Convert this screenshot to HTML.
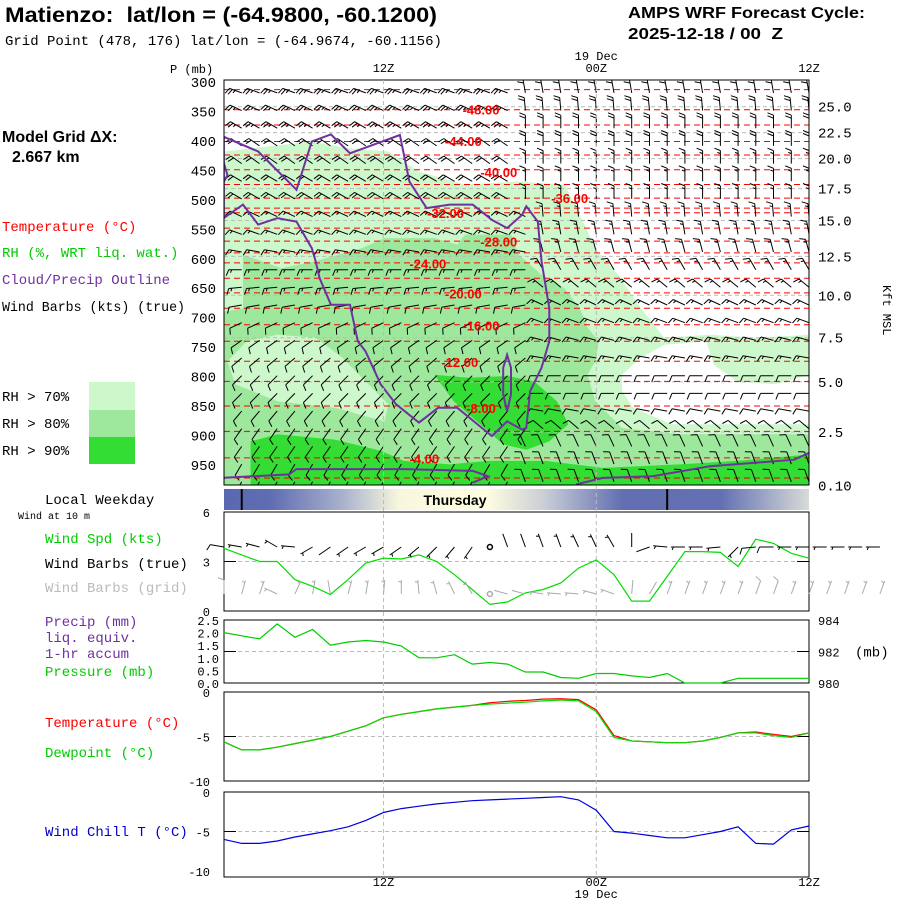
<!DOCTYPE html>
<html><head><meta charset="utf-8"><style>
html,body{margin:0;padding:0;background:#fff}
svg{display:block;font-family:"Liberation Mono",monospace}
text{white-space:pre}
.b{font-family:"Liberation Sans",sans-serif;font-weight:bold}
</style></head><body>
<svg id="s" width="900" height="900" viewBox="0 0 900 900" xmlns="http://www.w3.org/2000/svg">
<defs>
<clipPath id="cm"><rect x="224" y="80" width="585" height="405"/></clipPath>
<linearGradient id="dg" x1="224" x2="809" y1="0" y2="0" gradientUnits="userSpaceOnUse">
<stop offset="0" stop-color="#5a68b0"/><stop offset="0.08" stop-color="#5f6db2"/><stop offset="0.2" stop-color="#a7b0cc"/><stop offset="0.3" stop-color="#f8f7dd"/><stop offset="0.45" stop-color="#fffde0"/><stop offset="0.55" stop-color="#c8ccd6"/><stop offset="0.68" stop-color="#6270b2"/><stop offset="0.85" stop-color="#6371b3"/><stop offset="1" stop-color="#d8dbd8"/>
</linearGradient>
</defs>
<text class="b" x="5" y="22" font-size="21" textLength="432" lengthAdjust="spacingAndGlyphs">Matienzo:  lat/lon = (-64.9800, -60.1200)</text>
<text x="5" y="45" font-size="14">Grid Point (478, 176) lat/lon = (-64.9674, -60.1156)</text>
<text class="b" x="628" y="18" font-size="16" textLength="237" lengthAdjust="spacingAndGlyphs">AMPS WRF Forecast Cycle:</text>
<text class="b" x="628" y="39" font-size="16" textLength="155" lengthAdjust="spacingAndGlyphs">2025-12-18 / 00  Z</text>
<text class="b" x="2" y="142" font-size="16">Model Grid ΔX:</text>
<text class="b" x="12" y="162" font-size="16">2.667 km</text>
<text x="2" y="231" font-size="14" fill="#ff0000">Temperature (°C)</text>
<text x="2" y="257" font-size="14" fill="#00cc00">RH (%, WRT liq. wat.)</text>
<text x="2" y="284" font-size="14" fill="#7030a0">Cloud/Precip Outline</text>
<text x="2" y="311" font-size="14" textLength="183" lengthAdjust="spacingAndGlyphs">Wind Barbs (kts) (true)</text>
<rect x="89" y="382" width="46" height="28" fill="#ccf8cc"/>
<rect x="89" y="410" width="46" height="27" fill="#9de89d"/>
<rect x="89" y="437" width="46" height="27" fill="#33dd33"/>
<text x="2" y="401" font-size="14">RH &gt; 70%</text>
<text x="2" y="428" font-size="14">RH &gt; 80%</text>
<text x="2" y="455" font-size="14">RH &gt; 90%</text>
<text x="170" y="73" font-size="12">P (mb)</text>
<text x="45" y="504" font-size="14">Local Weekday</text>
<text x="18" y="519" font-size="10">Wind at 10 m</text>
<text x="45" y="543" font-size="14" fill="#00cc00">Wind Spd (kts)</text>
<text x="45" y="568" font-size="14">Wind Barbs (true)</text>
<text x="45" y="592" font-size="14" fill="#bbbbbb">Wind Barbs (grid)</text>
<text x="45" y="626" font-size="14" fill="#7030a0">Precip (mm)</text>
<text x="45" y="642" font-size="14" fill="#7030a0">liq. equiv.</text>
<text x="45" y="658" font-size="14" fill="#7030a0">1-hr accum</text>
<text x="45" y="676" font-size="14" fill="#00cc00">Pressure (mb)</text>
<text x="45" y="727" font-size="14" fill="#ff0000">Temperature (°C)</text>
<text x="45" y="757" font-size="14" fill="#00cc00">Dewpoint (°C)</text>
<text x="45" y="836" font-size="14" fill="#0000cc">Wind Chill T (°C)</text>
<g id="main" clip-path="url(#cm)"></g>
<g id="over"></g>
</svg>
<script>
// ---------- data ----------
const hours=[3,4,5,6,7,8,9,10,11,12,13,14,15,16,17,18,19,20,21,22,23,24,25,26,27,28,29,30,31,32,33,34,35,36];
const windSpd=[3.8,3.4,3.0,3.0,1.9,1.5,1.0,1.9,2.9,3.2,3.15,3.4,3.0,2.2,1.3,0.4,0.55,1.1,1.3,1.7,2.6,3.1,2.2,0.6,0.6,2.1,3.6,3.6,3.55,2.7,4.35,4.1,3.5,3.2];
const pressure=[983.2,983.0,982.8,983.75,982.9,983.4,982.4,982.6,982.7,982.6,982.35,981.6,981.6,981.8,981.2,981.3,981.2,980.7,980.7,980.35,980.3,980.6,980.6,980.45,980.35,980.6,980.0,980.0,980.0,980.3,980.3,980.3,980.3,980.3];
const dewpoint=[-5.6,-6.5,-6.5,-6.2,-5.8,-5.4,-5.0,-4.4,-3.8,-2.9,-2.5,-2.2,-1.9,-1.7,-1.5,-1.35,-1.25,-1.15,-1.0,-0.9,-1.0,-2.2,-5.1,-5.5,-5.6,-5.7,-5.7,-5.5,-5.1,-4.6,-4.6,-4.9,-5.1,-4.6];
const temperature=[-5.6,-6.5,-6.5,-6.2,-5.8,-5.4,-5.0,-4.4,-3.8,-2.9,-2.5,-2.2,-1.9,-1.7,-1.5,-1.2,-1.05,-0.95,-0.8,-0.75,-0.85,-2.0,-4.9,-5.5,-5.6,-5.7,-5.7,-5.5,-5.1,-4.6,-4.5,-4.75,-5.0,-4.6];
const windChill=[-6.0,-6.5,-6.5,-6.2,-5.7,-5.3,-4.9,-4.4,-3.6,-2.6,-2.1,-1.8,-1.5,-1.3,-1.1,-1.0,-0.9,-0.8,-0.7,-0.6,-1.0,-2.3,-5.0,-5.2,-5.5,-5.8,-5.8,-5.4,-5.0,-4.4,-6.5,-6.6,-4.8,-4.3];
const barbHours=[3,4,5,6,7,8,9,10,11,12,13,14,15,16,17,18,19,20,21,22,23,24,25,26,27,28,29,30,31,32,33,34,35,36,37,38,39,40];
const barbSpdExtra=[3,3,3,3];
const trueDir=[280,280,285,300,275,240,235,235,240,240,235,230,225,220,215,-1,340,340,340,340,335,335,330,0,250,275,270,270,265,225,265,270,270,270,270,270,270,270];
const gridDir=[0,15,20,295,25,10,350,15,10,5,0,355,345,335,330,-1,285,285,280,275,275,285,290,5,30,20,20,20,20,20,20,20,20,20,20,20,20,20];
// upper-air wind rows
const rowP=[310,340,370,400,430,460,490,520,550,580,610,640,670,700,730,760,790,820,850,880,910,940,970];
const dirL=[290,295,300,305,305,300,300,295,290,280,270,265,260,245,235,230,225,225,220,215,215,210,210];
const spdL=[25,25,25,20,20,20,20,15,15,15,15,15,10,10,10,10,10,10,10,10,10,10,10];
const dirR=[350,355,0,0,0,0,0,355,350,345,330,310,295,290,285,280,270,270,280,310,335,340,340];
const spdR=[20,20,20,20,15,15,15,15,15,15,15,15,15,15,15,15,10,10,10,10,10,10,10];
const transH=[20,20,20,20,20,20,20,21,21,21,21,21,21,21,21,21,21,21,21,21,20,20,20];
// isotherms
const isoT=[-50,-48,-46,-44,-42,-40,-38,-36,-34,-32,-30,-28,-26,-24,-22,-20,-18,-16,-14,-12,-10,-8,-6,-4,-2];
const isoP=[313,347,373,401,424,449,474,497,514,522,548,570,590,607,633,658,684,712,740,774,808,850,893,938,972];
const isoLabT=[-48,-44,-40,-36,-32,-28,-24,-20,-16,-12,-8,-4];
const isoLabH=[17.5,16.5,18.5,22.5,15.5,18.5,14.5,16.5,17.5,16.3,17.5,14.3];
const isoLabP=[347,400,453,497,522,571,608,659,713,775,853,939];
// RH regions [hour, pressure]
const rh70=[[2,418],[3,418],[7.95,401],[9.9,412],[12.27,418],[14.0,452],[16.59,474],[19.62,469],[22.21,474],[23.07,525],[23.94,582],[25.23,627],[26.53,684],[27.83,734],[30.42,729],[33.01,734],[36.03,729],[37,729],[37,990],[2,990]];
const rh70hole=[[25.45,797],[26.53,768],[27.83,746],[30.2,740],[30.63,780],[31.93,808],[34.1,813],[36.03,797],[37,797],[37,881],[28.26,881],[26.1,853],[25.45,825]];
const rh80=[[4.07,593],[6.23,616],[8.17,604],[10.76,582],[12.06,565],[14.87,565],[16.16,576],[16.59,559],[19.19,559],[19.62,593],[20.91,627],[22.21,650],[23.07,684],[23.51,717],[24.15,740],[23.94,774],[23.51,797],[23.94,842],[25.45,887],[28.69,898],[37,898],[37,990],[2,990],[2,695],[4.07,684]];
const rh80hole=[[4.28,740],[6.01,729],[8.17,734],[9.68,768],[10.98,808],[12.27,847],[12.06,876],[9.25,853],[6.01,842],[3.63,813],[3.2,774]];
const rh90a=[[14.87,797],[16.81,802],[18.97,799],[20.48,808],[21.78,842],[22.43,881],[21.35,910],[20.05,924],[18.75,915],[17.46,881],[15.95,842]];
const rh90b=[[4.5,910],[6.01,898],[9.25,907],[11.84,926],[13.14,943],[15.73,949],[17.89,943],[21.13,943],[24.37,955],[28.69,949],[31.93,943],[36.03,932],[37,932],[37,990],[4.5,990]];
const cloudMain=[[2.99,393],[4.93,418],[7.09,483],[7.95,401],[9.03,389],[10.11,421],[12.92,390],[13.46,469],[14.43,514],[15.73,508],[17.03,508],[18.11,534],[18.97,548],[19.83,525],[20.05,511],[20.7,537],[20.91,604],[21.35,684],[21.35,740],[20.91,785],[20.27,825],[20.05,887],[19.83,890],[18.97,876],[18.11,901],[16.16,853],[15.08,853],[14.0,878],[12.71,847],[11.84,813],[10.98,757],[10.55,740],[10.11,678],[9.03,678],[8.39,633],[8.17,604],[7.95,582],[7.09,537],[6.01,531],[4.93,542],[4.07,508],[2.99,531]];
const cloudSnip=[[2.9,429],[3.2,458],[2.9,474]];
const cloudLoop=[[18.75,785],[18.97,763],[19.19,785],[19.19,830],[18.97,859],[18.75,830],[18.75,785]];
const cloudBotL=[[2.9,972],[6.66,966],[7.09,957],[13.14,957],[17.03,960],[17.89,969],[17.03,980]];
const cloudBotR=[[22.86,983],[24.37,972],[27.18,969],[30.42,952],[35.17,941],[36.03,929],[37,925]];
const kftLabels=["25.0","22.5","20.0","17.5","15.0","12.5","10.0","7.5","5.0","2.5","0.10"];
const kftP=[342,386,430,481,535,596,662,734,809,894,985];
const pLabels=[300,350,400,450,500,550,600,650,700,750,800,850,900,950];
const spdTicks=[0,3,6];
const precipTicks=["0.0","0.5","1.0","1.5","2.0","2.5"];
const presTicks=[980,982,984];
const tTicks=[0,-5,-10];

// ---------- axes ----------
const X0=224,X1=809;
const X=h=>X0+(h-3)*(X1-X0)/33;
const YP=p=>82+(p-300)*0.5892;
const YS=v=>611-v*16.5;
const YPR=v=>683-(v-980)*15.75;
const YPC=v=>683-v*25.2;
const YT=t=>692-t*8.9;
const YC=t=>792-t*7.9;

const NS="http://www.w3.org/2000/svg";
const mainG=document.getElementById('main'), over=document.getElementById('over');
function mk(tag,attrs,parent){const e=document.createElementNS(NS,tag);for(const k in attrs)e.setAttribute(k,attrs[k]);(parent||over).appendChild(e);return e;}
function ptsHP(a){return a.map(q=>X(q[0]).toFixed(1)+','+YP(q[1]).toFixed(1)).join(' ');}

let e;
e=mk('polygon',{points:ptsHP(rh70),fill:'#ccf8cc'},mainG);


e=mk('polygon',{points:ptsHP(rh70hole),fill:'#ffffff'},mainG);


e=mk('polygon',{points:ptsHP(rh80),fill:'#9de89d'},mainG);


e=mk('polygon',{points:ptsHP(rh80hole),fill:'#ccf8cc'},mainG);


e=mk('polygon',{points:ptsHP(rh90a),fill:'#33dd33'},mainG);


e=mk('polygon',{points:ptsHP(rh90b),fill:'#33dd33'},mainG);



kftP.slice(0,10).forEach((p,i)=>{
  const l=mk('line',{x1:X0,x2:X1,y1:YP(p),y2:YP(p),stroke:'#bbbbbb','stroke-dasharray':'4,3','stroke-width':1},mainG);
  
  
});

function barb(g,x,y,dir,spd,col,L,F){
  if(dir<0){const c=mk('circle',{cx:x,cy:y,r:2.5,fill:'none',stroke:col,'stroke-width':1.5},g);
    
    return;}
  const r=dir*Math.PI/180, dx=Math.sin(r), dy=-Math.cos(r);
  const lx=dy, ly=-dx;
  const tx=x+dx*L, ty=y+dy*L;
  let d=`M${x.toFixed(1)},${y.toFixed(1)}L${tx.toFixed(1)},${ty.toFixed(1)}`;
  let s=Math.round(spd/5)*5, pos=0;
  while(s>=10){const bx=tx-dx*pos, by=ty-dy*pos;d+=`M${bx.toFixed(1)},${by.toFixed(1)}l${(lx*F+dx*F*0.4).toFixed(1)},${(ly*F+dy*F*0.4).toFixed(1)}`;s-=10;pos+=3;}
  if(s>=5){if(pos===0)pos=2.5;const bx=tx-dx*pos, by=ty-dy*pos;d+=`M${bx.toFixed(1)},${by.toFixed(1)}l${(lx*F*0.5+dx*F*0.2).toFixed(1)},${(ly*F*0.5+dy*F*0.2).toFixed(1)}`;}
  const p=mk('path',{d:d,stroke:col,fill:'none','stroke-width':1},g);
  
  
}

isoT.forEach((t,i)=>{
  const l=mk('line',{x1:X0,x2:X1,y1:YP(isoP[i]),y2:YP(isoP[i]),stroke:'#ff0000','stroke-dasharray':'6,4','stroke-width':1},mainG);
  
  
});

rowP.forEach((p,ri)=>{
  hours.forEach(h=>{
    const right=h>=transH[ri];
    barb(mainG,X(h),YP(p)+5,right?dirR[ri]:dirL[ri],right?spdR[ri]:spdL[ri],'#000',13,6);
  });
});

isoLabT.forEach((t,i)=>{
  const tx=mk('text',{x:X(isoLabH[i]),y:YP(isoLabP[i])+5,'font-size':13,'font-weight':'bold',fill:'#ff0000','text-anchor':'middle','font-family':'Liberation Sans'},mainG);
  tx.textContent=t.toFixed(2);
  
  
});

[[cloudMain,true],[cloudSnip,false],[cloudLoop,false],[cloudBotL,false],[cloudBotR,false]].forEach(([a,c])=>{
  const pl=mk(c?'polygon':'polyline',{points:ptsHP(a),fill:'none',stroke:'#7030a0','stroke-width':2},mainG);
  
  
});

e=mk('rect',{x:X0,y:80,width:X1-X0,height:405,fill:'none',stroke:'#000','stroke-width':1});


pLabels.forEach(p=>{
  const t=mk('text',{x:216,y:YP(p)+5,'font-size':14,'text-anchor':'end'});t.textContent=p;
  
  
});
kftLabels.forEach((s,i)=>{
  const t=mk('text',{x:818,y:YP(kftP[i])+5,'font-size':14});t.textContent=s;
  
  
});
e=mk('text',{x:0,y:0,'font-size':12,transform:'translate(883,285) rotate(90)'});e.textContent='Kft MSL';



[['12Z',12,72],['00Z',24,72],['12Z',36,72],['19 Dec',24,60],['12Z',12,886],['00Z',24,886],['12Z',36,886],['19 Dec',24,898]].forEach(([s,h,y])=>{
  const t=mk('text',{x:X(h),y:y,'font-size':12,'text-anchor':'middle'});t.textContent=s;
  
  
});

e=mk('rect',{x:X0,y:489,width:X1-X0,height:21,fill:'url(#dg)'});


[4,28].forEach(h=>{const l=mk('line',{x1:X(h),x2:X(h),y1:489,y2:510,stroke:'#000','stroke-width':2});
  
  });
e=mk('text',{x:455,y:505,'font-size':14,'font-weight':'bold','text-anchor':'middle','font-family':'Liberation Sans'});e.textContent='Thursday';



const panels=[[512,611,'wind-panel'],[620,683,'precip-pressure-panel'],[692,781,'temperature-panel'],[792,877,'wind-chill-panel']];
panels.forEach(([a,b,n])=>{
  const r=mk('rect',{x:X0,y:a,width:X1-X0,height:b-a,fill:'none',stroke:'#000'});
  
  
});
[12,24].forEach(h=>{
  const l=mk('line',{x1:X(h),x2:X(h),y1:80,y2:877,stroke:'#bbbbbb','stroke-dasharray':'4,3'});
  
  
});
[YS(3),YPR(982),YT(-5),YC(-5)].forEach(y=>{
  const l=mk('line',{x1:X0,x2:X1,y1:y,y2:y,stroke:'#bbbbbb','stroke-dasharray':'4,3'});
  
  
  const t1=mk('line',{x1:X0,x2:X0+12,y1:y,y2:y,stroke:'#000'});
  
  
  const t2=mk('line',{x1:X1-12,x2:X1,y1:y,y2:y,stroke:'#000'});
  
  
});
function tickLabel(s,x,y,anchor,name){const t=mk('text',{x:x,y:y,'font-size':12,'text-anchor':anchor});t.textContent=s;
  
  }
spdTicks.forEach(v=>tickLabel(v,210,YS(v)+5,'end','wind-speed-tick'));
precipTicks.forEach(v=>tickLabel(v,219,YPC(+v)+5,'end','precip-tick'));
presTicks.forEach(v=>tickLabel(v,818,YPR(v)+5,'start','pressure-tick'));
e=mk('text',{x:855,y:YPR(982)+5,'font-size':14});e.textContent='(mb)';


tTicks.forEach(v=>tickLabel(v,210,YT(v)+5,'end','temperature-tick'));
tTicks.forEach(v=>tickLabel(v,210,YC(v)+5,'end','wind-chill-tick'));

function line(vals,yf,col,name){
  const pl=mk('polyline',{points:vals.map((v,i)=>X(hours[i]).toFixed(1)+','+yf(v).toFixed(1)).join(' '),fill:'none',stroke:col,'stroke-width':1.2});
  
  
}
line(windSpd,YS,'#00dd00','wind-speed-line');
line(pressure,YPR,'#00cc00','pressure-line');
line(temperature,YT,'#ff0000','temperature-line');
line(dewpoint,YT,'#00dd00','dewpoint-line');
line(windChill,YC,'#0000dd','wind-chill-line');

const barbSpd=windSpd.concat(barbSpdExtra);
barbHours.forEach((h,i)=>{
  barb(over,X(h),547,trueDir[i],barbSpd[i]*2,'#000',14,6);
  barb(over,X(h),594,gridDir[i],barbSpd[i]*2,'#aaaaaa',14,6);
});
</script>
</body></html>
